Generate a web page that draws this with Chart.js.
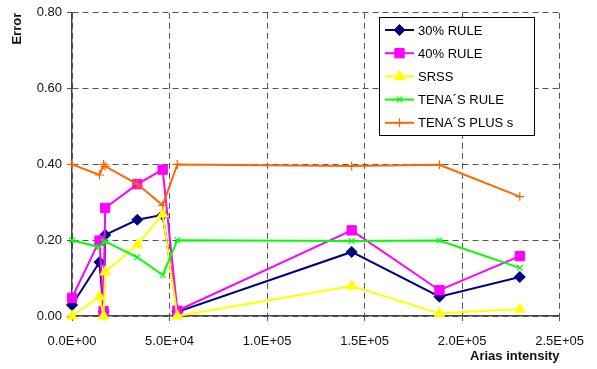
<!DOCTYPE html>
<html>
<head>
<meta charset="utf-8">
<script src="https://cdn.jsdelivr.net/npm/chart.js@4/dist/chart.umd.min.js"></script>
<style>
  html, body { margin: 0; padding: 0; background: #fff; }
  #wrap { width: 597px; height: 369px; }
</style>
</head>
<body>
<div id="wrap"><canvas id="errChart" width="597" height="369"></canvas></div>
<script>
// Arias intensity (x) shared by every series
var arias = [0, 14100, 16200, 17000, 33500, 46500, 54000, 143400, 188400, 229600];

var rule30 = [0.029, 0.142, 0.011, 0.214, 0.254, 0.267, 0.011, 0.169, 0.051, 0.103];
var rule40 = [0.048, 0.199, 0.013, 0.285, 0.348, 0.386, 0.014, 0.226, 0.068, 0.158];
var srss = [0.0, 0.051, 0.0, 0.116, 0.188, 0.269, 0.0, 0.079, 0.007, 0.018];
var tenaRule = [0.200, 0.182, 0.195, 0.197, 0.155, 0.108, 0.200, 0.198, 0.199, 0.127];
var tenaPlus = [0.400, 0.372, 0.400, 0.395, 0.348, 0.292, 0.400, 0.396, 0.399, 0.315];

var seriesNames = ['30% RULE', '40% RULE', 'SRSS', 'TENA\u00B4S RULE', 'TENA\u00B4S PLUS s'];

function pts(ys) {
    return ys.map(function (y, i) { return { x: arias[i], y: y }; });
}

function sci(v) {
    var s = Number(v).toExponential(1).toUpperCase(); // e.g. 5.0E+4
    var m = s.split('E');
    var exp = parseInt(m[1], 10);
    var sign = exp < 0 ? '-' : '+';
    var e = Math.abs(exp);
    return m[0] + 'E' + sign + (e < 10 ? '0' + e : e);
}

function mkSet(i, data, color, style, radius) {
    return {
        label: seriesNames[i],
        data: pts(data),
        borderColor: color,
        backgroundColor: color,
        borderWidth: 2,
        pointStyle: style,
        pointRadius: radius,
        pointBorderColor: color,
        pointBackgroundColor: color,
        pointBorderWidth: (style === 'cross' || style === 'crossRot') ? 1.2 : 1,
        tension: 0,
        clip: false,
        order: 4 - i
    };
}

// legend box drawn inside the plot, like the original
var boxLegend = {
    id: 'boxLegend',
    afterDraw: function (chart) {
        var ctx = chart.ctx;
        var x0 = 379.5, y0 = 17.5, w = 155, h = 118;
        ctx.save();
        ctx.fillStyle = '#fff';
        ctx.fillRect(x0, y0, w, h);
        ctx.strokeStyle = '#000';
        ctx.lineWidth = 1;
        ctx.strokeRect(x0, y0, w, h);
        ctx.font = '13px "Liberation Sans", Arial, sans-serif';
        ctx.textBaseline = 'middle';
        chart.data.datasets.forEach(function (ds, i) {
            var cy = 30 + i * 23.2;
            ctx.strokeStyle = ds.borderColor;
            ctx.fillStyle = ds.borderColor;
            ctx.lineWidth = 2;
            ctx.beginPath();
            ctx.moveTo(385, cy);
            ctx.lineTo(414, cy);
            ctx.stroke();
            ctx.lineWidth = ds.pointBorderWidth;
            Chart.helpers.drawPoint(ctx, {
                pointStyle: ds.pointStyle,
                radius: ds.pointRadius,
                borderWidth: ds.pointBorderWidth,
                rotation: 0
            }, 399.5, cy);
            ctx.fillStyle = '#000';
            ctx.fillText(ds.label, 418, cy + 1);
        });
        ctx.restore();
    }
};

var ctx = document.getElementById('errChart').getContext('2d');
var errChart = new Chart(ctx, {
    type: 'line',
    data: {
        datasets: [
            mkSet(0, rule30, '#000080', 'rectRot', 5.5),
            mkSet(1, rule40, '#FF00FF', 'rect', 6.6),
            mkSet(2, srss, '#FFFF00', 'triangle', 6),
            mkSet(3, tenaRule, '#00FF00', 'crossRot', 4),
            mkSet(4, tenaPlus, '#FF6600', 'cross', 4.5)
        ]
    },
    options: {
        responsive: false,
        animation: false,
        devicePixelRatio: 1,
        layout: { padding: { top: 11, right: 30, left: 0, bottom: 0 } },
        plugins: {
            legend: { display: false },
            tooltip: { enabled: false }
        },
        scales: {
            x: {
                type: 'linear',
                min: 0,
                max: 250000,
                ticks: {
                    stepSize: 50000,
                    padding: 13,
                    color: '#111',
                    font: { family: '"Liberation Sans", Arial, sans-serif', size: 13 },
                    maxRotation: 0,
                    callback: function (v) { return sci(v); }
                },
                grid: { color: '#555', lineWidth: 1, tickLength: 5 },
                border: { color: '#444', width: 1.5, dash: [6, 4] },
                title: {
                    display: true,
                    text: 'Arias intensity',
                    align: 'end',
                    color: '#111',
                    font: { family: '"Liberation Sans", Arial, sans-serif', size: 13, weight: 'bold' },
                    padding: { top: 0, bottom: 5 }
                },
                afterFit: function (s) { s.height = 53; }
            },
            y: {
                min: 0,
                max: 0.8,
                ticks: {
                    stepSize: 0.2,
                    padding: 5,
                    color: '#111',
                    font: { family: '"Liberation Sans", Arial, sans-serif', size: 13 },
                    callback: function (v) { return Number(v).toFixed(2); }
                },
                grid: { color: '#555', lineWidth: 1, tickLength: 5 },
                border: { color: '#444', width: 1.5, dash: [6, 4] },
                title: {
                    display: true,
                    text: 'Error',
                    align: 'end',
                    color: '#111',
                    font: { family: '"Liberation Sans", Arial, sans-serif', size: 13, weight: 'bold' },
                    padding: { top: 10, bottom: 0 }
                },
                afterFit: function (s) { s.width = 72; }
            }
        }
    },
    plugins: [boxLegend]
});
</script>
</body>
</html>
